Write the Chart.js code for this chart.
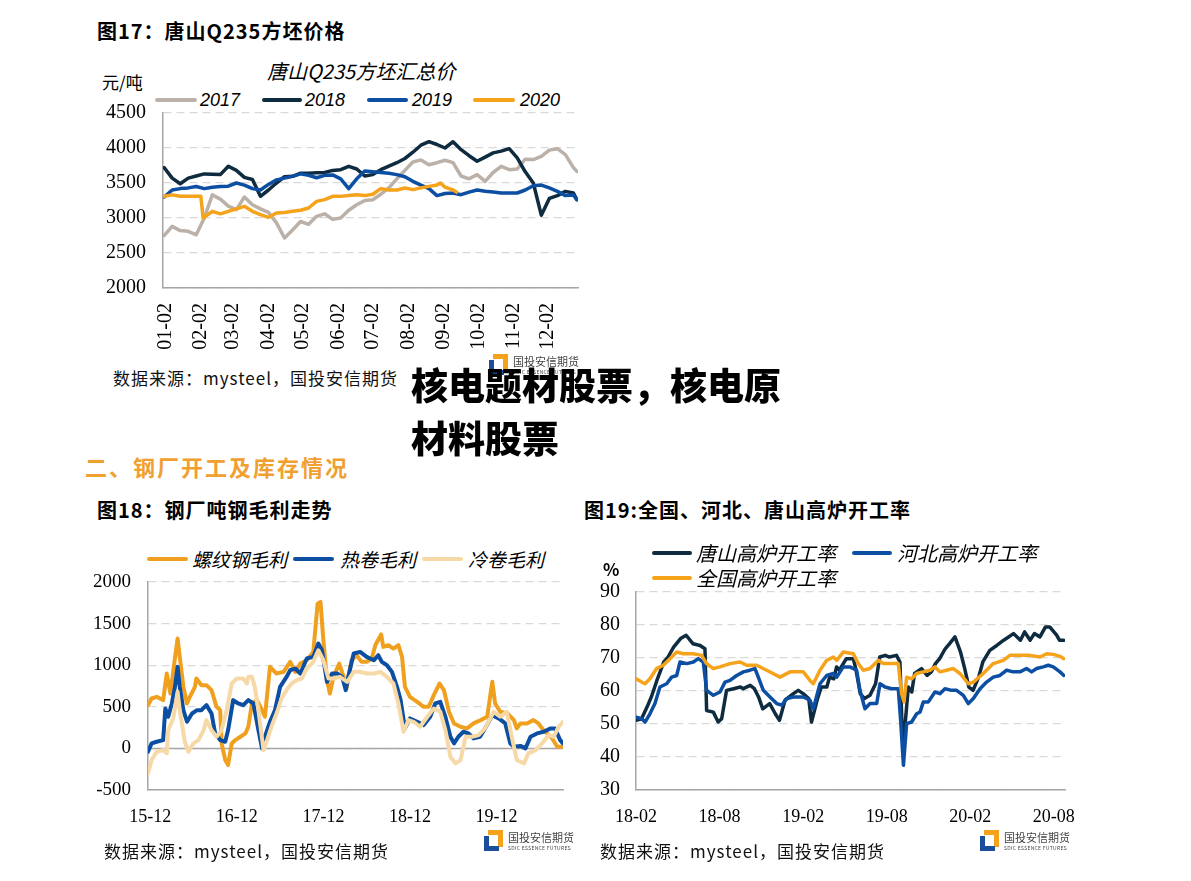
<!DOCTYPE html>
<html>
<head>
<meta charset="utf-8">
<script src="https://cdn.jsdelivr.net/npm/chart.js@4.4.1/dist/chart.umd.min.js"></script>
<style>
body{margin:0;width:1191px;height:881px;background:#fff;position:relative;overflow:hidden;font-family:"Noto Sans CJK SC",sans-serif;color:#000}
canvas{position:absolute}
.t{position:absolute;white-space:nowrap;line-height:1}
.ln{position:absolute;height:4px;border-radius:2px}
.it{font-style:italic}
.head{font-weight:bold;font-size:20px;letter-spacing:1px}
.src{font-size:17px;letter-spacing:1px;color:#111}
.logo{position:absolute;width:110px;height:24px}
.logo .a{position:absolute;left:4px;top:0;width:10px;height:12px;border-top:5px solid #f5a31a;border-right:5px solid #f5a31a}
.logo .b{position:absolute;left:0;top:6px;width:10px;height:10px;border-left:5px solid #1b4f9c;border-bottom:5px solid #1b4f9c}
.logo .n{position:absolute;left:24px;top:2px;font-size:11px;color:#444;line-height:1}
.logo .e{position:absolute;left:24px;top:15px;font-size:5px;color:#444;line-height:1;letter-spacing:0.3px}
</style>
</head>
<body>

<div class="t head" style="left:97px;top:21px">图17：唐山Q235方坯价格</div>
<div class="t it" style="left:267px;top:61px;font-size:20px">唐山Q235方坯汇总价</div>
<div class="t" style="left:102px;top:73px;font-size:17px">元/吨</div>
<div class="ln" style="left:155px;top:98px;width:42px;background:#bcb1a8"></div>
<div class="t it" style="left:200px;top:91px;font-size:18px;font-family:'Liberation Sans',Arial">2017</div>
<div class="ln" style="left:262px;top:98px;width:40px;background:#0e2b3f"></div>
<div class="t it" style="left:305px;top:91px;font-size:18px;font-family:'Liberation Sans',Arial">2018</div>
<div class="ln" style="left:367px;top:98px;width:41px;background:#0b4ea2"></div>
<div class="t it" style="left:412px;top:91px;font-size:18px;font-family:'Liberation Sans',Arial">2019</div>
<div class="ln" style="left:473px;top:98px;width:42px;background:#f5a31a"></div>
<div class="t it" style="left:520px;top:91px;font-size:18px;font-family:'Liberation Sans',Arial">2020</div>
<canvas id="c1" width="500" height="260" style="left:90px;top:100px"></canvas>

<div class="t src" style="left:113px;top:369px">数据来源：mysteel，国投安信期货</div>
<div class="logo" style="left:489px;top:354px"><div class="a"></div><div class="b"></div><div class="n">国投安信期货</div><div class="e">SDIC ESSENCE FUTURES</div></div>

<div class="t" style="left:85px;top:455px;font-size:22px;font-weight:bold;letter-spacing:2px;color:#f0a030">二、钢厂开工及库存情况</div>

<div class="t head" style="left:97px;top:500px">图18：钢厂吨钢毛利走势</div>
<div class="ln" style="left:147px;top:557px;width:41px;background:#f0a01f"></div>
<div class="t it" style="left:192px;top:549px;font-size:19px">螺纹钢毛利</div>
<div class="ln" style="left:293px;top:557px;width:41px;background:#0b4ea2"></div>
<div class="t it" style="left:340px;top:549px;font-size:19px">热卷毛利</div>
<div class="ln" style="left:422px;top:557px;width:41px;background:#f6d9a6"></div>
<div class="t it" style="left:468px;top:549px;font-size:19px">冷卷毛利</div>
<canvas id="c2" width="500" height="270" style="left:80px;top:570px"></canvas>
<div class="t src" style="left:104px;top:842px">数据来源：mysteel，国投安信期货</div>
<div class="logo" style="left:484px;top:830px"><div class="a"></div><div class="b"></div><div class="n">国投安信期货</div><div class="e">SDIC ESSENCE FUTURES</div></div>

<div class="t head" style="left:584px;top:500px">图19:全国、河北、唐山高炉开工率</div>
<div class="ln" style="left:652px;top:551px;width:40px;background:#0e2b3f"></div>
<div class="t it" style="left:696px;top:543px;font-size:20px">唐山高炉开工率</div>
<div class="ln" style="left:852px;top:551px;width:40px;background:#0b4ea2"></div>
<div class="t it" style="left:897px;top:543px;font-size:20px">河北高炉开工率</div>
<div class="ln" style="left:652px;top:576px;width:40px;background:#f5a31a"></div>
<div class="t it" style="left:696px;top:568px;font-size:20px">全国高炉开工率</div>
<div class="t" style="left:603px;top:560px;font-size:17px;font-weight:bold">%</div>
<canvas id="c3" width="500" height="270" style="left:580px;top:570px"></canvas>
<div class="t src" style="left:600px;top:842px">数据来源：mysteel，国投安信期货</div>
<div class="logo" style="left:980px;top:830px"><div class="a"></div><div class="b"></div><div class="n">国投安信期货</div><div class="e">SDIC ESSENCE FUTURES</div></div>

<div class="t" style="left:411px;top:358px;font-size:37px;font-weight:900;line-height:53px">核电题材股票，核电原<br>材料股票</div>

<script>
// 图17: day of year (Jan 1 = 0)
const days = [0,7,14,21,28,35,42,49,56,63,70,77,84,91,98,105,112,119,126,133,140,147,154,161,168,175,182,189,196,203,210,217,224,231,238,245,252,259,266,273,280,287,294,301,308,315,322,329,336,343,350,357,360];
const p2017 = [2750,2880,2820,2810,2760,3000,3330,3270,3170,3120,3300,3190,3130,3080,2930,2714,2830,2950,2910,3024,3060,2980,3000,3110,3190,3250,3260,3340,3430,3560,3680,3800,3830,3760,3790,3825,3790,3600,3560,3620,3524,3650,3738,3690,3700,3840,3835,3881,3970,3990,3905,3720,3667];
const p2018 = [3720,3570,3490,3570,3600,3630,3625,3620,3740,3680,3580,3550,3310,3400,3500,3590,3595,3640,3640,3645,3650,3680,3690,3738,3700,3600,3620,3690,3740,3790,3850,3940,4040,4090,4050,4000,4090,3976,3890,3810,3870,3930,3955,3990,3860,3660,3500,3040,3280,3320,3380,3357,3262];
const p2019 = [3300,3400,3420,3430,3450,3420,3440,3450,3455,3500,3470,3420,3400,3480,3545,3570,3595,3630,3610,3575,3610,3615,3560,3420,3560,3670,3660,3650,3640,3620,3590,3524,3470,3420,3320,3350,3357,3333,3370,3400,3381,3370,3357,3357,3357,3400,3460,3470,3429,3381,3320,3330,3262];
const days2020 = [0,7,14,21,28,32,34,42,49,56,63,70,77,84,91,98,105,112,119,126,133,140,147,154,161,168,175,182,189,196,203,210,217,224,231,238,241,245,252,255];
const p2020 = [3310,3330,3310,3310,3310,3310,3000,3095,3060,3095,3130,3167,3095,3048,3010,3071,3080,3095,3110,3143,3238,3262,3309,3309,3320,3333,3320,3340,3420,3400,3400,3429,3405,3430,3452,3470,3500,3440,3400,3370];
const dayTicks = [1,32,60,91,121,152,182,213,244,274,305,335];
const dayLabels = ['01-02','02-02','03-02','04-02','05-02','06-02','07-02','08-02','09-02','10-02','11-02','12-02'];

// 图18: months since 2015-12
const rebarM = [-0.3,0.2,0.9,1.8,2.3,2.8,3.4,3.8,4.1,4.6,5.1,5.5,6.2,6.4,7.1,7.8,8.5,9.2,9.7,9.9,10.4,10.8,11.3,11.8,12.5,13.2,13.6,14.1,14.8,15.5,15.9,16.6,17.5,18.5,19.4,20.1,20.8,21.7,22.6,23.2,23.6,24.0,24.5,24.9,25.4,26.2,26.8,27.2,27.9,28.6,29.3,30.0,30.7,31.2,32.0,32.3,33.0,33.7,34.4,34.9,35.3,36.0,37.0,37.9,38.6,39.3,40.1,40.7,41.4,42.1,43.0,43.9,44.8,45.8,46.7,47.4,47.8,48.5,49.5,50.4,50.8,51.3,52.2,53.1,53.8,54.5,55.0,55.7,56.4,57.1];
const rebarV = [520,600,620,580,900,660,1060,1320,1100,740,540,620,740,840,760,760,700,500,460,60,-140,-200,60,100,140,180,260,540,580,460,380,980,900,920,1040,920,1020,1060,1160,1740,1760,1300,820,660,860,1020,860,720,1060,1120,1040,1040,1080,1240,1370,1220,1240,1200,1240,1100,740,620,560,500,500,640,780,700,440,300,260,240,300,340,380,800,540,440,420,340,240,300,300,340,300,220,180,120,20,20];
const hotM = [-0.3,0.2,0.9,1.8,2.1,2.5,3.0,3.4,3.8,4.1,4.6,5.1,5.8,6.5,7.1,7.8,8.5,9.0,9.7,10.4,10.8,11.5,12.2,12.9,13.6,14.3,15.0,15.5,15.9,16.6,17.3,18.0,18.9,19.4,20.1,20.8,21.7,22.6,23.3,23.8,24.5,25.2,25.9,26.6,27.1,27.5,28.2,29.1,30.0,31.0,31.6,32.1,32.8,33.5,34.2,34.7,35.3,36.0,37.0,37.9,38.8,39.5,40.2,40.9,41.6,42.1,42.7,43.4,44.1,44.8,45.7,46.4,47.4,48.3,49.2,49.9,50.4,51.3,52.0,52.7,53.6,54.5,55.5,56.1,56.8,57.2];
const hotV = [-40,60,80,100,480,380,540,720,980,740,460,320,420,460,460,520,420,180,100,80,220,580,540,520,580,540,220,0,140,320,460,740,860,940,960,900,1080,1100,1260,1180,800,900,900,860,700,880,1140,1160,1100,1060,1120,1040,1000,920,740,580,240,360,320,280,380,540,560,380,140,60,140,200,180,120,140,240,400,360,300,60,20,30,0,140,180,200,240,240,100,60];
const coldM = [-0.3,0.2,0.9,1.8,2.3,2.5,3.2,3.8,4.1,4.8,5.3,6.0,6.7,7.4,7.8,8.5,9.2,9.9,10.6,11.3,12.0,12.9,13.4,13.6,14.1,14.5,15.0,15.7,16.2,16.8,17.6,18.2,18.9,19.6,20.3,21.0,21.7,22.6,23.3,24.0,24.7,25.4,26.3,27.3,28.2,29.1,30.0,31.0,31.9,32.8,33.7,34.4,35.1,35.8,36.5,37.4,38.4,39.3,40.2,40.9,41.6,42.3,43.0,43.7,44.6,45.5,46.4,47.6,48.5,49.4,50.1,50.8,51.8,52.4,53.4,54.3,55.2,55.9,56.6,57.2];
const coldV = [-300,-140,-40,-20,-60,220,360,680,460,80,-40,60,100,220,340,220,140,220,460,780,840,840,780,860,860,740,460,-20,100,260,440,600,700,780,820,840,960,1040,1180,1060,840,840,860,800,920,920,900,900,920,860,780,540,200,340,320,260,380,480,440,220,-100,-180,-140,140,140,160,240,440,380,440,140,-140,-180,-60,-20,60,160,140,260,320];
const profitTicks = [0,12,24,36,48];
const profitLabels = ['15-12','16-12','17-12','18-12','19-12'];

// 图19: months since 2018-02
const tsM = [0,0.4,0.8,1.1,1.5,2.0,2.3,2.7,3.2,3.6,4.1,4.6,4.95,5.07,5.55,5.9,6.15,6.5,7.0,7.5,7.7,8.2,8.5,8.8,9.1,9.6,10.0,10.3,10.7,11.3,11.65,12.0,12.4,12.6,13.0,13.3,13.7,13.9,14.2,14.4,14.6,15.1,15.6,15.8,16.1,16.4,16.8,17.2,17.5,17.9,18.2,18.7,18.95,19.1,19.2,19.55,19.8,20.0,20.5,20.9,21.2,21.5,21.8,22.2,22.5,22.9,23.3,23.6,23.9,24.2,24.6,24.9,25.4,25.9,26.4,27.1,27.6,27.9,28.3,28.6,29.0,29.4,29.7,30.2,30.4,30.7];
const tsV = [51.1,51.6,55.2,58.2,63.2,68.8,70.3,73.3,75.9,76.9,74.3,73.8,72.8,54.1,53.6,50.6,51.6,60.2,60.7,61.2,60.7,61.7,60.7,58.2,54.6,56.2,53.1,51.1,57.2,59.2,60.2,59.2,57.7,50.6,57.2,61.2,61.2,64.2,63.7,67.3,66.3,69.8,69.8,66.3,59.2,57.7,58.7,62.2,70.3,70.8,70.3,70.8,68.8,49.1,44.0,61.2,59.7,65.3,66.8,64.7,65.8,68.3,69.8,72.8,74.3,76.4,71.8,66.8,61.2,60.2,64.2,68.8,72.3,73.8,75.4,77.4,75.4,77.9,75.4,77.4,76.4,79.4,79.4,76.9,75.4,75.4];
const hbM = [0,0.4,0.65,1.0,1.36,1.72,2.2,2.56,2.92,3.16,3.64,4.12,4.47,4.83,5.07,5.55,6.03,6.39,6.75,7.23,7.71,8.18,8.54,8.78,9.14,9.62,10.1,10.46,10.82,11.29,12.01,12.49,12.73,13.21,13.69,14.17,14.41,14.88,15.36,15.84,16.08,16.44,16.8,17.28,17.52,17.88,18.35,18.83,19.0,19.2,19.43,19.79,20.15,20.39,20.63,20.99,21.46,21.82,22.18,22.66,23.02,23.5,23.86,24.22,24.7,25.17,25.65,26.13,26.61,27.09,27.57,28.04,28.4,28.76,29.24,29.6,29.96,30.44,30.72];
const hbV = [52.1,51.6,50.6,53.1,56.2,61.2,62.2,64.2,64.7,68.8,68.3,68.8,69.8,68.8,60.2,58.7,59.7,62.7,63.2,64.7,65.8,66.3,66.8,64.2,60.2,58.2,56.2,55.7,57.7,58.2,58.2,57.2,54.6,62.2,64.7,65.3,64.2,67.3,67.3,66.3,60.2,54.6,56.2,56.2,62.2,61.2,60.7,60.7,51.1,37.5,50.1,50.6,53.1,53.6,56.7,56.7,59.7,59.2,60.7,60.2,60.2,58.7,56.2,57.7,60.7,62.7,64.2,64.7,66.3,65.8,65.8,66.8,65.8,66.8,67.3,67.8,67.3,65.8,64.7];
const qgM = [0,0.41,0.65,1.0,1.48,1.96,2.44,2.92,3.4,4.12,4.71,5.07,5.55,6.03,6.75,7.47,7.94,8.66,9.38,10.34,11.06,12.01,12.49,12.73,13.21,13.69,14.17,14.41,14.88,15.6,15.96,16.32,16.8,17.4,17.76,18.83,19.07,19.24,19.43,19.79,20.15,20.63,21.11,21.46,21.82,22.3,22.78,23.26,23.86,24.22,24.93,25.65,26.37,26.85,27.57,28.28,29.0,29.48,29.96,30.44,30.72];
const qgV = [63.7,62.7,62.2,63.7,66.8,67.8,69.8,71.8,71.3,71.3,70.8,68.3,66.8,67.3,68.3,68.8,67.8,67.8,66.3,64.2,65.8,65.8,63.2,62.2,66.3,69.3,70.3,69.3,71.8,71.3,68.3,66.3,66.8,69.3,68.3,68.3,59.2,56.7,64.2,63.7,65.3,65.8,66.3,67.3,65.8,66.3,66.8,65.3,62.2,62.7,65.3,68.3,69.3,70.8,70.8,70.8,70.3,71.3,71.1,70.5,69.8];
const rateTicks = [0,6,12,18,24,30];
const rateLabels = ['18-02','18-08','19-02','19-08','20-02','20-08'];

const serif = "'Liberation Serif','Times New Roman',serif";
const axisGrey = '#a6a6a6';

function series(xs, ys, color, width) {
  return {
    data: xs.map((x, i) => ({x: x, y: ys[i]})),
    borderColor: color, borderWidth: width,
    pointRadius: 0, tension: 0, fill: false,
    borderJoinStyle: 'round', borderCapStyle: 'round'
  };
}

function xAxis(min, max, ticks, labels, height, size, rot, pad) {
  return {
    type: 'linear', min: min, max: max,
    afterFit: s => { s.height = height; s.paddingLeft = 0; s.paddingRight = 0; },
    afterBuildTicks: s => { s.ticks = ticks.map(v => ({value: v})); },
    ticks: {
      autoSkip: false, minRotation: rot, maxRotation: rot, padding: pad, color: '#000',
      font: {family: serif, size: size},
      callback: v => labels[ticks.indexOf(v)]
    },
    grid: {display: false},
    border: {display: true, color: axisGrey, width: 1.5}
  };
}

function yAxis(min, max, step, width, size, pad) {
  return {
    min: min, max: max,
    afterFit: s => { s.width = width; s.paddingTop = 0; s.paddingBottom = 0; },
    ticks: {stepSize: step, padding: pad, color: '#000', font: {family: serif, size: size}, callback: v => String(v)},
    grid: {color: '#d9d9d9', lineWidth: 1.2, drawTicks: false},
    border: {display: true, color: axisGrey, width: 1.5, dash: [8, 5]}
  };
}

const zeroLine = {
  id: 'zeroLine',
  beforeDatasetsDraw(chart) {
    const y = chart.scales.y.getPixelForValue(0);
    const {ctx, chartArea} = chart;
    ctx.save();
    ctx.strokeStyle = axisGrey;
    ctx.lineWidth = 1.5;
    ctx.beginPath();
    ctx.moveTo(chartArea.left, y);
    ctx.lineTo(chartArea.right, y);
    ctx.stroke();
    ctx.restore();
  }
};

const common = {
  responsive: false, animation: false,
  plugins: {legend: {display: false}, tooltip: {enabled: false}}
};

new Chart(document.getElementById('c1'), {
  type: 'line',
  data: {datasets: [
    series(days2020, p2020, '#f5a31a', 3.5),
    series(days, p2019, '#0b4ea2', 3.5),
    series(days, p2018, '#0e2b3f', 3.5),
    series(days, p2017, '#bcb1a8', 3.5)
  ]},
  options: Object.assign({}, common, {
    layout: {padding: {top: 13, right: 12, left: 0, bottom: 0}},
    scales: {
      x: xAxis(-1, 361, dayTicks, dayLabels, 72, 20, 90, 7),
      y: yAxis(2000, 4500, 500, 73, 20, 17)
    }
  })
});

new Chart(document.getElementById('c2'), {
  type: 'line',
  data: {datasets: [
    series(coldM, coldV, '#f6d9a6', 4),
    series(hotM, hotV, '#0b4ea2', 4),
    series(rebarM, rebarV, '#f0a01f', 4)
  ]},
  options: Object.assign({}, common, {
    layout: {padding: {top: 12, right: 17, left: 0, bottom: 0}},
    scales: {
      x: xAxis(-0.3, 57.2, profitTicks, profitLabels, 50, 18, 0, 8),
      y: yAxis(-500, 2000, 500, 68, 19, 17)
    }
  }),
  plugins: [zeroLine]
});

new Chart(document.getElementById('c3'), {
  type: 'line',
  data: {datasets: [
    series(qgM, qgV, '#f5a31a', 3.5),
    series(hbM, hbV, '#0b4ea2', 3.5),
    series(tsM, tsV, '#0e2b3f', 3.5)
  ]},
  options: Object.assign({}, common, {
    layout: {padding: {top: 22, right: 15, left: 0, bottom: 0}},
    scales: {
      x: xAxis(0, 30.8, rateTicks, rateLabels, 50, 18, 0, 8),
      y: yAxis(30, 90, 10, 56, 20, 16)
    }
  })
});
</script>
</body>
</html>
